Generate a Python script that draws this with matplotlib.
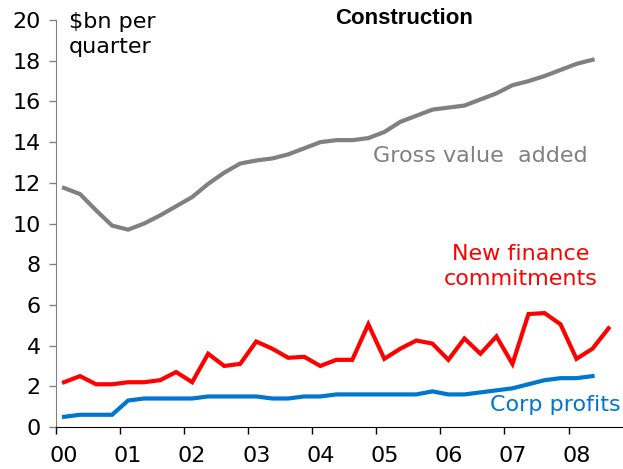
#!/usr/bin/env python
# -*- coding: utf-8 -*-

import numpy as np
from matplotlib import pyplot as plt
import matplotlib as mpl
from matplotlib.ticker import MultipleLocator, FixedLocator

# 四半期データ（2000Q1から、$bn）
gross_value_added = [11.75, 11.45, 10.65, 9.9, 9.7, 10.0, 10.4, 10.85, 11.3, 11.95,
                     12.5, 12.95, 13.1, 13.2, 13.4, 13.7, 14.0, 14.1, 14.1, 14.2,
                     14.5, 15.0, 15.3, 15.6, 15.7, 15.8, 16.1, 16.4, 16.8, 17.0,
                     17.25, 17.55, 17.85, 18.05]
new_finance = [2.2, 2.5, 2.1, 2.1, 2.2, 2.2, 2.3, 2.7, 2.2, 3.6,
               3.0, 3.1, 4.2, 3.85, 3.4, 3.45, 3.0, 3.3, 3.3, 5.05,
               3.35, 3.85, 4.25, 4.1, 3.3, 4.35, 3.6, 4.45, 3.1, 5.55,
               5.6, 5.05, 3.35, 3.85, 4.85]
corp_profits = [0.5, 0.6, 0.6, 0.6, 1.3, 1.4, 1.4, 1.4, 1.4, 1.5,
                1.5, 1.5, 1.5, 1.4, 1.4, 1.5, 1.5, 1.6, 1.6, 1.6,
                1.6, 1.6, 1.6, 1.75, 1.6, 1.6, 1.7, 1.8, 1.9, 2.1,
                2.3, 2.4, 2.4, 2.5]
years = list(range(2000, 2009))
year_labels = ['00', '01', '02', '03', '04', '05', '06', '07', '08']

# フォントを設定
mpl.rc('font', family='DejaVu Sans')
FS = 16


def quarters(values):
    # 四半期の中央に点を置く
    return 2000.125 + 0.25 * np.arange(len(values))


def main():
    fig = plt.figure(figsize=(6.23, 4.69), dpi=100)
    ax = fig.add_axes([0.0899, 0.0896, 0.909, 0.8675])

    ax.plot(quarters(gross_value_added), gross_value_added, color='#808080', lw=3, solid_joinstyle='miter')
    ax.plot(quarters(new_finance), new_finance, color='#FF0000', lw=3, solid_joinstyle='miter')
    ax.plot(quarters(corp_profits), corp_profits, color='#0077CC', lw=3, solid_joinstyle='miter')

    ax.set_xlim(2000, 2008.84)
    ax.set_ylim(0, 20)

    # 軸の見た目
    for side in ['top', 'right']:
        ax.spines[side].set_visible(False)
    ax.spines['left'].set_color('#808080')
    ax.spines['bottom'].set_color('black')

    ax.yaxis.set_major_locator(MultipleLocator(2))
    ax.tick_params(axis='y', length=5, width=1, color='#808080', pad=6, labelsize=FS)
    ax.xaxis.set_major_locator(FixedLocator(years))
    ax.xaxis.set_minor_locator(FixedLocator([y + 0.125 for y in years]))
    ax.set_xticklabels([], minor=False)
    ax.set_xticklabels(year_labels, minor=True)
    ax.tick_params(axis='x', which='major', length=5, width=1, color='black')
    ax.tick_params(axis='x', which='minor', length=0, pad=14, labelsize=FS)

    # テキスト
    fig.text(69 / 623, 1 - 12 / 469, '$bn per\nquarter', fontsize=FS, va='top', ha='left',
             linespacing=1.3)
    fig.text(404 / 623, 1 - 18 / 469, 'Construction', fontfamily='Liberation Sans',
             fontweight='bold', fontsize=FS, ha='center', va='center')
    ax.text(2006.63, 13.33, 'Gross value  added', color='#808080', fontsize=FS, ha='center', va='center')
    ax.text(2007.25, 7.87, 'New finance\ncommitments', color='#FF0000', fontsize=FS,
            ha='center', va='center', linespacing=1.3)
    ax.text(2006.78, 1.08, 'Corp profits', color='#0077CC', fontsize=FS, ha='left', va='center')

    fig.savefig('out.png', dpi=100)


if __name__ == '__main__':
    main()
